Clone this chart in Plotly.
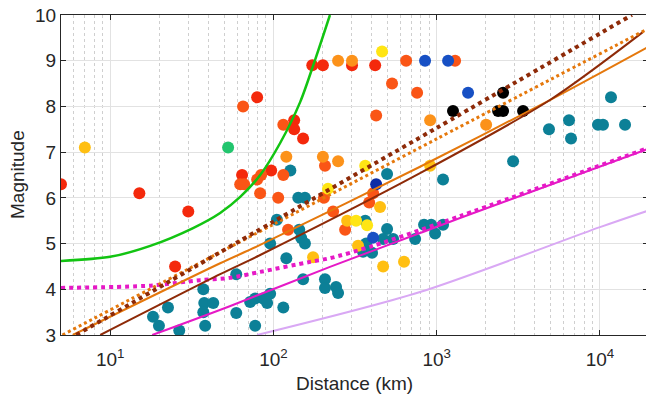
import numpy as np
import plotly.graph_objects as go

# ---------------- scatter data (distance km, magnitude) by colour group ----------------
teal_d = [18.3, 19.9, 22.6, 26.5, 37.2, 37.7, 42.8, 37.2, 38.2, 59.2, 59.2, 72.0, 77.3, 86.5,
          91.5, 95.5, 115, 77.3, 120, 95.5, 105, 127, 142, 156, 144, 148, 156, 152, 207, 207,
          242, 249, 365, 497, 470, 541, 370, 354, 402, 497, 738, 837, 925, 978, 1094, 1094,
          2939, 4875, 6467, 6653, 9730, 10440, 14250, 11690]
teal_m = [3.4, 3.2, 3.6, 3.1, 4.0, 3.7, 3.7, 3.5, 3.2, 4.33, 3.48, 3.72, 3.8, 3.8,
          3.7, 3.9, 3.6, 3.2, 4.68, 5.0, 5.52, 6.6, 6.0, 6.0, 5.3, 5.12, 5.0, 4.22, 4.22, 4.03,
          4.05, 3.92, 5.5, 5.32, 5.1, 5.1, 5.0, 4.82, 4.8, 6.52, 5.1, 5.41, 5.41, 5.22, 5.41, 6.4,
          6.8, 7.5, 7.7, 7.3, 7.6, 7.6, 7.6, 8.2]

red_d = [5.0, 15.1, 30.1, 25.0, 64.3, 79.5, 96.9, 134, 134, 152, 173, 201, 303, 420]
red_m = [6.3, 6.1, 5.7, 4.5, 6.5, 8.2, 6.6, 7.7, 7.5, 7.3, 8.9, 8.9, 8.9, 8.9]

orangered_d = [65.2, 115, 62.6, 66.2, 79.5, 84.1, 115, 82.9, 107, 123, 207, 204, 232, 275,
               386, 408, 426, 533, 759, 650, 1297]
orangered_m = [8.0, 7.6, 6.3, 6.3, 6.4, 6.5, 6.5, 6.1, 6.0, 5.3, 6.7, 6.0, 5.7, 5.3,
               5.9, 6.1, 7.8, 8.5, 8.3, 9.0, 9.0]

orange_d = [120, 201, 249, 249, 303, 912, 2009]
orange_m = [6.9, 6.9, 6.8, 9.0, 9.0, 7.7, 7.6]

yelloworange_d = [7.0, 175, 283, 330, 450, 470, 631, 912]
yelloworange_m = [7.1, 4.7, 5.5, 4.95, 5.8, 4.5, 4.6, 6.7]

yellow_d = [216, 321, 375, 365, 463]
yellow_m = [6.2, 5.5, 5.4, 6.7, 9.2]

green_pt_d = [52.8]
green_pt_m = [7.1]

blue_d = [849, 1175, 408, 1557]
blue_m = [9.0, 9.0, 5.13, 8.3]

darkblue_d = [426]
darkblue_m = [6.3]

black_d = [1259, 2379, 2552, 2552, 3383]
black_m = [7.9, 7.9, 7.9, 8.3, 7.9]

# ---------------- curves ----------------
green_d = [5.0, 10.0, 17.6, 32.2, 47.2, 62.6, 83.0, 110, 146, 180, 222]
green_m = [4.62, 4.71, 4.95, 5.34, 5.67, 6.02, 6.50, 7.20, 8.10, 9.02, 10.0]

orange_dot_d = [5.1, 100, 1000, 19700]
orange_dot_m = [3.0, 5.42, 7.29, 9.7]

brown_dot_d = [6.2, 100, 1000, 15700]
brown_dot_m = [3.0, 5.48, 7.53, 10.0]

orange_sol_d = [5.9, 47.2, 83.0, 791, 4940, 19700]
orange_sol_m = [3.0, 4.57, 4.97, 6.68, 8.14, 9.3]

brown_sol_d = [8.7, 47.2, 83.0, 791, 4940, 18400]
brown_sol_m = [3.0, 4.33, 4.75, 6.54, 8.14, 9.63]

magenta_sol_d = [18.1, 54, 222, 791, 1390, 19700]
magenta_sol_m = [3.0, 3.63, 4.49, 5.23, 5.56, 7.07]

magenta_dot_d = [5.0, 17.6, 35.6, 54, 83, 168, 222, 408, 1390, 19700]
magenta_dot_m = [4.03, 4.08, 4.2, 4.25, 4.38, 4.6, 4.68, 4.95, 5.6, 7.09]

lavender_d = [79.4, 791, 10000, 19700]
lavender_m = [3.0, 3.94, 5.36, 5.72]

x_ticks = [10, 100, 1000, 10000]
x_ticktext = ["10<sup>1</sup>", "10<sup>2</sup>", "10<sup>3</sup>", "10<sup>4</sup>"]
y_ticks = [3, 4, 5, 6, 7, 8, 9, 10]

fig = go.Figure()

groups = [
    (teal_d, teal_m, "#0C8097"),
    (red_d, red_m, "#F4290C"),
    (orangered_d, orangered_m, "#FA5516"),
    (orange_d, orange_m, "#FC921A"),
    (yelloworange_d, yelloworange_m, "#FFBF12"),
    (yellow_d, yellow_m, "#FFE514"),
    (green_pt_d, green_pt_m, "#22C56E"),
    (blue_d, blue_m, "#1750C4"),
    (darkblue_d, darkblue_m, "#0C2CA6"),
    (black_d, black_m, "#000000"),
]
for d, m, c in groups:
    fig.add_trace(go.Scatter(x=d, y=m, mode="markers",
                             marker=dict(size=12, color=c, line=dict(width=0)),
                             hoverinfo="skip"))

lines = [
    (lavender_d, lavender_m, "#D9A8F4", "solid", 2),
    (magenta_sol_d, magenta_sol_m, "#E619C6", "solid", 2),
    (magenta_dot_d, magenta_dot_m, "#E619C6", "dot", 4),
    (orange_sol_d, orange_sol_m, "#E5780C", "solid", 2),
    (brown_sol_d, brown_sol_m, "#8E2A08", "solid", 2),
    (orange_dot_d, orange_dot_m, "#E5780C", "dot", 3),
    (brown_dot_d, brown_dot_m, "#8E2A08", "dot", 4),
    (green_d, green_m, "#12C412", "solid", 2.5),
]
for d, m, c, dash, w in lines:
    fig.add_trace(go.Scatter(x=d, y=m, mode="lines",
                             line=dict(color=c, width=w, dash=dash, shape="spline", smoothing=0.8),
                             hoverinfo="skip"))

x_max = 19700
minor_vals = []
for dec in [1, 10, 100, 1000, 10000]:
    for k in range(2, 10):
        v = k * dec
        if 5 <= v <= x_max:
            minor_vals.append(v)

axis_col = "#262626"
FS = 19
fig.update_layout(
    width=648, height=399,
    margin=dict(l=61, r=0, t=15, b=64, autoexpand=False),
    plot_bgcolor="white", paper_bgcolor="white",
    showlegend=False,
    font=dict(family="Liberation Sans, Arial, sans-serif", size=FS, color=axis_col),
    annotations=[
        dict(text="Magnitude", textangle=-90, xref="paper", yref="paper",
             x=0, y=0.5, xanchor="center", yanchor="middle", xshift=-44,
             showarrow=False, font=dict(size=FS, color=axis_col)),
        dict(text="Distance (km)", xref="paper", yref="paper",
             x=0.5, y=0, xanchor="center", yanchor="middle", yshift=-48,
             showarrow=False, font=dict(size=FS, color=axis_col)),
    ],
)
fig.update_xaxes(
    type="log", range=[np.log10(5), np.log10(x_max)], automargin=False,
    tickmode="array", tickvals=x_ticks, ticktext=x_ticktext,
    ticks="inside", ticklen=5, tickcolor=axis_col, ticklabelstandoff=7,
    ticklabeloverflow="allow",
    showline=True, linecolor=axis_col, linewidth=1, mirror="ticks",
    showgrid=True, gridcolor="#E2E2E2", gridwidth=1, zeroline=False,
    minor=dict(tickmode="array", tickvals=minor_vals, showgrid=True,
               gridcolor="#CFCFCF", griddash="dot", gridwidth=1),
    tickfont=dict(size=FS),
)
fig.update_yaxes(
    range=[3, 10], tickmode="array", tickvals=y_ticks, automargin=False,
    ticks="inside", ticklen=5, tickcolor=axis_col,
    ticklabeloverflow="allow",
    showline=True, linecolor=axis_col, linewidth=1, mirror="ticks",
    showgrid=True, gridcolor="#E2E2E2", gridwidth=1, zeroline=False,
    tickfont=dict(size=FS),
)

fig.write_html("out.html",
               config={"displayModeBar": False},
               post_script="document.body.style.margin='0';document.body.style.overflow='hidden';")
